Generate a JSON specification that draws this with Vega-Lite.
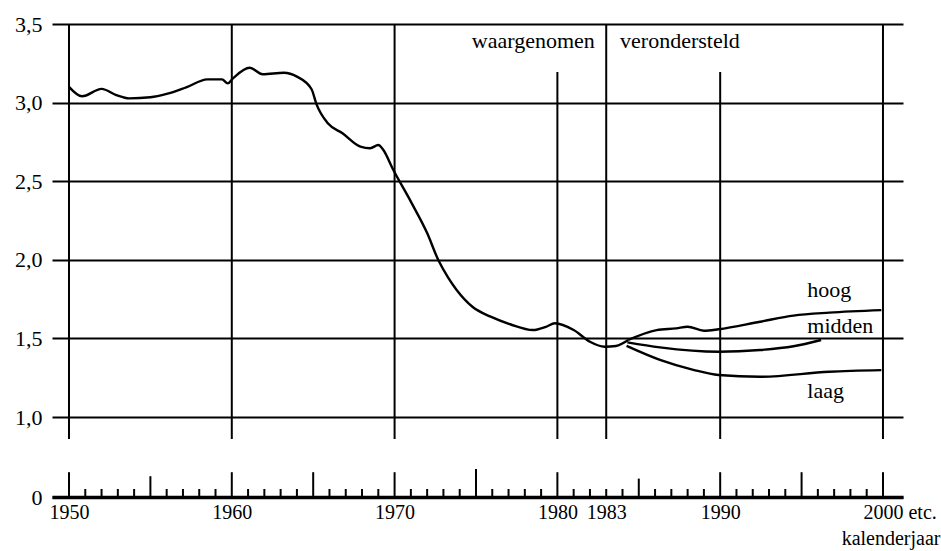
{
  "$schema": "https://vega.github.io/schema/vega-lite/v6.json",
  "autosize": "none",
  "width": 851,
  "height": 473,
  "padding": {"left": 52, "top": 24, "right": 38, "bottom": 54},
  "background": "white",
  "config": {
    "font": "Liberation Serif",
    "view": {"stroke": null},
    "axis": {"labelFont": "Liberation Serif", "titleFont": "Liberation Serif"},
    "text": {"font": "Liberation Serif"}
  },
  "datasets": {
    "vlines": [
      {"year": 1950, "value": 0.725, "value2": 3.5},
      {"year": 1960, "value": 0.725, "value2": 3.5},
      {"year": 1970, "value": 0.725, "value2": 3.5},
      {"year": 1980, "value": 0.725, "value2": 3.195},
      {"year": 1983, "value": 0.725, "value2": 3.5},
      {"year": 1990, "value": 0.725, "value2": 3.195},
      {"year": 2000, "value": 0.725, "value2": 3.5}
    ],
    "ticks": [
      {"year": 1950, "value": 0, "value2": 0.31}, {"year": 1951, "value": 0, "value2": 0.1}, {"year": 1952, "value": 0, "value2": 0.1}, {"year": 1953, "value": 0, "value2": 0.1}, {"year": 1954, "value": 0, "value2": 0.1},
      {"year": 1955, "value": 0, "value2": 0.26}, {"year": 1956, "value": 0, "value2": 0.1}, {"year": 1957, "value": 0, "value2": 0.1}, {"year": 1958, "value": 0, "value2": 0.1}, {"year": 1959, "value": 0, "value2": 0.1},
      {"year": 1960, "value": 0, "value2": 0.31}, {"year": 1961, "value": 0, "value2": 0.1}, {"year": 1962, "value": 0, "value2": 0.1}, {"year": 1963, "value": 0, "value2": 0.1}, {"year": 1964, "value": 0, "value2": 0.1},
      {"year": 1965, "value": 0, "value2": 0.31}, {"year": 1966, "value": 0, "value2": 0.1}, {"year": 1967, "value": 0, "value2": 0.1}, {"year": 1968, "value": 0, "value2": 0.1}, {"year": 1969, "value": 0, "value2": 0.1},
      {"year": 1970, "value": 0, "value2": 0.31}, {"year": 1971, "value": 0, "value2": 0.1}, {"year": 1972, "value": 0, "value2": 0.1}, {"year": 1973, "value": 0, "value2": 0.1}, {"year": 1974, "value": 0, "value2": 0.1},
      {"year": 1975, "value": 0, "value2": 0.35}, {"year": 1976, "value": 0, "value2": 0.1}, {"year": 1977, "value": 0, "value2": 0.1}, {"year": 1978, "value": 0, "value2": 0.1}, {"year": 1979, "value": 0, "value2": 0.1},
      {"year": 1980, "value": 0, "value2": 0.31}, {"year": 1981, "value": 0, "value2": 0.1}, {"year": 1982, "value": 0, "value2": 0.1}, {"year": 1983, "value": 0, "value2": 0.1}, {"year": 1984, "value": 0, "value2": 0.1},
      {"year": 1985, "value": 0, "value2": 0.23}, {"year": 1986, "value": 0, "value2": 0.1}, {"year": 1987, "value": 0, "value2": 0.1}, {"year": 1988, "value": 0, "value2": 0.1}, {"year": 1989, "value": 0, "value2": 0.1},
      {"year": 1990, "value": 0, "value2": 0.31}, {"year": 1991, "value": 0, "value2": 0.1}, {"year": 1992, "value": 0, "value2": 0.1}, {"year": 1993, "value": 0, "value2": 0.1}, {"year": 1994, "value": 0, "value2": 0.1},
      {"year": 1995, "value": 0, "value2": 0.31}, {"year": 1996, "value": 0, "value2": 0.1}, {"year": 1997, "value": 0, "value2": 0.1}, {"year": 1998, "value": 0, "value2": 0.1}, {"year": 1999, "value": 0, "value2": 0.1},
      {"year": 2000, "value": 0, "value2": 0.31}
    ],
    "obs": [
      {"year": 1950.0, "value": 3.10}, {"year": 1950.8, "value": 3.04}, {"year": 1952.0, "value": 3.087},
      {"year": 1952.9, "value": 3.048}, {"year": 1953.7, "value": 3.027}, {"year": 1955.0, "value": 3.034},
      {"year": 1956.0, "value": 3.055}, {"year": 1957.2, "value": 3.097}, {"year": 1958.5, "value": 3.148},
      {"year": 1959.4, "value": 3.148}, {"year": 1959.75, "value": 3.122}, {"year": 1960.1, "value": 3.157},
      {"year": 1961.1, "value": 3.222}, {"year": 1961.9, "value": 3.18}, {"year": 1963.2, "value": 3.19},
      {"year": 1964.0, "value": 3.165}, {"year": 1964.9, "value": 3.085}, {"year": 1965.2, "value": 2.99},
      {"year": 1965.9, "value": 2.868}, {"year": 1966.8, "value": 2.805}, {"year": 1967.9, "value": 2.72},
      {"year": 1968.5, "value": 2.71}, {"year": 1969.0, "value": 2.73}, {"year": 1969.3, "value": 2.70},
      {"year": 1969.9, "value": 2.576}, {"year": 1971.0, "value": 2.37}, {"year": 1972.0, "value": 2.17},
      {"year": 1972.7, "value": 1.995}, {"year": 1973.3, "value": 1.885}, {"year": 1973.8, "value": 1.81},
      {"year": 1974.8, "value": 1.70}, {"year": 1975.9, "value": 1.638}, {"year": 1977.1, "value": 1.59},
      {"year": 1978.5, "value": 1.553}, {"year": 1979.3, "value": 1.574}, {"year": 1979.85, "value": 1.596},
      {"year": 1981.0, "value": 1.553}, {"year": 1982.0, "value": 1.479}, {"year": 1982.9, "value": 1.447},
      {"year": 1983.6, "value": 1.452}, {"year": 1984.35, "value": 1.49}
    ],
    "proj": [
      {"scenario": "hoog", "year": 1984.35, "value": 1.49}, {"scenario": "hoog", "year": 1986.1, "value": 1.553},
      {"scenario": "hoog", "year": 1987.3, "value": 1.564}, {"scenario": "hoog", "year": 1988.0, "value": 1.574},
      {"scenario": "hoog", "year": 1989.0, "value": 1.549}, {"scenario": "hoog", "year": 1989.9, "value": 1.558},
      {"scenario": "hoog", "year": 1992.45, "value": 1.606}, {"scenario": "hoog", "year": 1994.5, "value": 1.645},
      {"scenario": "hoog", "year": 1996.7, "value": 1.664}, {"scenario": "hoog", "year": 1999.9, "value": 1.68},
      {"scenario": "midden", "year": 1984.3, "value": 1.475}, {"scenario": "midden", "year": 1986.3, "value": 1.443},
      {"scenario": "midden", "year": 1989.9, "value": 1.415}, {"scenario": "midden", "year": 1992.45, "value": 1.426},
      {"scenario": "midden", "year": 1994.5, "value": 1.45}, {"scenario": "midden", "year": 1996.2, "value": 1.49},
      {"scenario": "laag", "year": 1984.25, "value": 1.452}, {"scenario": "laag", "year": 1986.3, "value": 1.363},
      {"scenario": "laag", "year": 1988.35, "value": 1.30}, {"scenario": "laag", "year": 1989.9, "value": 1.267},
      {"scenario": "laag", "year": 1992.45, "value": 1.256}, {"scenario": "laag", "year": 1996.7, "value": 1.288},
      {"scenario": "laag", "year": 1999.9, "value": 1.298}
    ],
    "labelsRight": [
      {"year": 1995.35, "value": 1.763, "text": "hoog"},
      {"year": 1995.35, "value": 1.532, "text": "midden"},
      {"year": 1995.35, "value": 1.123, "text": "laag"}
    ]
  },
  "layer": [
    {
      "data": {"name": "vlines"},
      "mark": {"type": "rule", "color": "black", "strokeWidth": 2},
      "encoding": {
        "x": {
          "field": "year", "type": "quantitative",
          "scale": {"domain": [1948.956, 2001.23], "nice": false, "zero": false},
          "axis": {
            "values": [1950, 1960, 1970, 1980, 1983, 1990, 2000],
            "format": "d",
            "grid": false, "ticks": false,
            "domain": true, "domainColor": "black", "domainWidth": 3.5,
            "labelFont": "Liberation Serif",
            "labelFontSize": 20, "labelColor": "black", "labelPadding": 5,
            "labelOverlap": false, "labelFlush": false, "labelBound": false,
            "labelExpr": "datum.value == 2000 ? '2000 etc.' : datum.label",
            "labelAlign": {"condition": {"test": "datum.value == 2000", "value": "left"}, "value": "center"},
            "labelOffset": {"condition": {"test": "datum.value == 2000", "value": -20}, "value": 0},
            "title": "kalenderjaar", "titleFont": "Liberation Serif", "titleFontSize": 20, "titleFontWeight": "normal", "titleColor": "black",
            "titleAlign": "right", "titleAnchor": "end", "titleX": 888, "titleY": 41, "titleBaseline": "middle"
          }
        },
        "y": {
          "field": "value", "type": "quantitative",
          "scale": {"domain": [0, 1, 3.5], "range": [473, 393, 0], "nice": false, "zero": false},
          "axis": {
            "values": [0, 1, 1.5, 2, 2.5, 3, 3.5],
            "labelExpr": "datum.value == 0 ? '0' : replace(format(datum.value, '.1f'), '.', ',')",
            "grid": true, "gridColor": "black", "gridWidth": 2, "gridOpacity": 1,
            "domain": false, "ticks": false, "labelPadding": 10,
            "labelFont": "Liberation Serif",
            "labelFontSize": 22, "labelColor": "black", "title": null
          }
        },
        "y2": {"field": "value2"}
      }
    },
    {
      "data": {"name": "ticks"},
      "mark": {"type": "rule", "color": "black", "strokeWidth": 2},
      "encoding": {
        "x": {"field": "year", "type": "quantitative"},
        "y": {"field": "value", "type": "quantitative"},
        "y2": {"field": "value2"}
      }
    },
    {
      "data": {"name": "obs"},
      "mark": {"type": "line", "color": "black", "strokeWidth": 2.4, "interpolate": "monotone"},
      "encoding": {
        "x": {"field": "year", "type": "quantitative"},
        "y": {"field": "value", "type": "quantitative"}
      }
    },
    {
      "data": {"name": "proj"},
      "mark": {"type": "line", "color": "black", "strokeWidth": 2.4, "interpolate": "monotone"},
      "encoding": {
        "x": {"field": "year", "type": "quantitative"},
        "y": {"field": "value", "type": "quantitative"},
        "detail": {"field": "scenario"}
      }
    },
    {
      "data": {"name": "labelsRight"},
      "mark": {"type": "text", "align": "left", "baseline": "alphabetic", "font": "Liberation Serif", "fontSize": 22, "color": "black"},
      "encoding": {
        "x": {"field": "year", "type": "quantitative"},
        "y": {"field": "value", "type": "quantitative"},
        "text": {"field": "text"}
      }
    },
    {
      "data": {"values": [{"year": 1982.3, "value": 3.345, "text": "waargenomen"}]},
      "mark": {"type": "text", "align": "right", "baseline": "alphabetic", "font": "Liberation Serif", "fontSize": 22, "color": "black"},
      "encoding": {
        "x": {"field": "year", "type": "quantitative"},
        "y": {"field": "value", "type": "quantitative"},
        "text": {"field": "text"}
      }
    },
    {
      "data": {"values": [{"year": 1983.85, "value": 3.345, "text": "verondersteld"}]},
      "mark": {"type": "text", "align": "left", "baseline": "alphabetic", "font": "Liberation Serif", "fontSize": 22, "color": "black"},
      "encoding": {
        "x": {"field": "year", "type": "quantitative"},
        "y": {"field": "value", "type": "quantitative"},
        "text": {"field": "text"}
      }
    }
  ]
}
